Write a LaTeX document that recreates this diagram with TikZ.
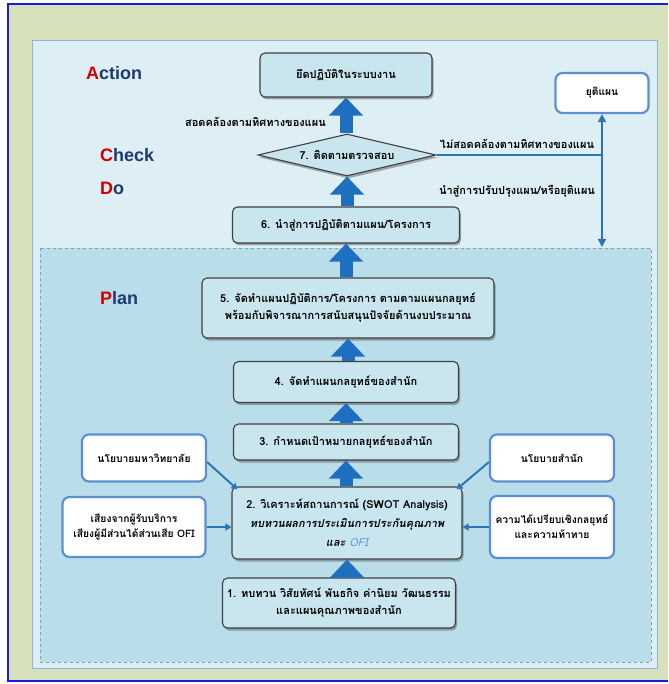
\documentclass[tikz,border=0pt]{standalone}
\usepackage{fontspec}
\setmainfont{Liberation Sans}
\newfontfamily\thai[Script=Thai]{Loma}
\usetikzlibrary{arrows.meta,shapes.geometric,shadows,calc}
\definecolor{beige}{HTML}{D7E2BD}
\definecolor{frameblue}{HTML}{1A1AE0}
\definecolor{panel}{HTML}{DDEFF5}
\definecolor{panelline}{HTML}{8DB3E2}
\definecolor{planfill}{HTML}{B9DEE9}
\definecolor{planline}{HTML}{7F9FBF}
\definecolor{boxfill}{HTML}{C9E5EE}
\definecolor{sideblue}{HTML}{5B8FD0}
\definecolor{arrowblue}{HTML}{1E6FC0}
\definecolor{thinblue}{HTML}{2E75B6}
\definecolor{navy}{HTML}{1F3A6E}
\definecolor{redA}{HTML}{D00000}
\definecolor{ofiblue}{HTML}{5B9BD5}
\begin{document}
\begin{tikzpicture}[x=1pt,y=-1pt,
  thaitext/.style={font=\thai\bfseries\fontsize{11}{14}\selectfont},
  sidetext/.style={font=\thai\bfseries\fontsize{10.3}{13}\selectfont},
  mainbox/.style={thaitext, draw=black!75, line width=1.1pt, rounded corners=5pt,
    fill=boxfill, align=center, inner sep=2pt,
    drop shadow={shadow xshift=1.5pt, shadow yshift=-2.5pt, opacity=0.45, fill=black!70}},
  sidebox/.style={sidetext, draw=sideblue, line width=2.2pt, rounded corners=7pt,
    fill=white, align=center, inner sep=2pt},
  bigarrow/.style={draw=arrowblue, line width=13pt, -{Triangle[width=33pt,length=18pt]}},
  thinarrow/.style={draw=thinblue, line width=2pt, -{Triangle[width=7pt,length=6pt]}},
  phase/.style={font=\bfseries\fontsize{18}{21}\selectfont, text=navy, anchor=west, inner sep=0pt},
  lbl/.style={thaitext, inner sep=1pt}
]
\useasboundingbox (0,0) rectangle (668,684);
% frames
\fill[beige] (8,4) rectangle (668,681);
\draw[frameblue, line width=1.5pt] (668,4) -- (8,4) -- (8,681) -- (668,681);
\filldraw[fill=panel, draw=panelline, line width=0.8pt] (32,40) rectangle (657,668);
\filldraw[fill=planfill, draw=planline, line width=0.6pt, dashed] (40,248) rectangle (651,662);

% phase labels
\node[phase] (act) at (86,73) {\textcolor{redA}{A}ction};
\node[phase] (chk) at (100,155) {\textcolor{redA}{C}heck};
\node[phase] (do) at (100,188) {\textcolor{redA}{D}o};
\node[phase] (pln) at (100,298) {\textcolor{redA}{P}lan};

% main boxes
\node[mainbox, minimum width=172pt, minimum height=44pt] (n8) at (346,75) {ยึดปฏิบัติในระบบงาน};
\node[diamond, aspect=4, thaitext, draw=black!75, line width=1.1pt, fill=boxfill, inner sep=0pt,
  minimum width=178pt, minimum height=42pt,
  drop shadow={shadow xshift=1.5pt, shadow yshift=-2.5pt, opacity=0.45, fill=black!70}] (n7) at (347,155) {7. ติดตามตรวจสอบ};
\node[mainbox, minimum width=227pt, minimum height=36pt] (n6) at (346,225) {6. นำสู่การปฏิบัติตามแผน/โครงการ};
\node[mainbox, minimum width=292pt, minimum height=60pt] (n5) at (348,308) {5. จัดทำแผนปฏิบัติการ/โครงการ ตามตามแผนกลยุทธ์\\[3pt] พร้อมกับพิจารณาการสนับสนุนปัจจัยด้านงบประมาณ};
\node[mainbox, minimum width=225pt, minimum height=41pt] (n4) at (346,382) {4. จัดทำแผนกลยุทธ์ของสำนัก};
\node[mainbox, minimum width=225pt, minimum height=36pt] (n3) at (346,442) {3. กำหนดเป้าหมายกลยุทธ์ของสำนัก};
\node[mainbox, minimum width=230pt, minimum height=72pt] (n2) at (347,523) {2. วิเคราะห์สถานการณ์ (SWOT Analysis)\\[5pt] {\itshape ทบทวนผลการประเมินการประกันคุณภาพ}\\[5pt] {\itshape และ \textcolor{ofiblue}{\mdseries OFI}}};
\node[mainbox, minimum width=233pt, minimum height=50pt] (n1) at (339,603) {1. ทบทวน วิสัยทัศน์ พันธกิจ ค่านิยม วัฒนธรรม\\[3pt] และแผนคุณภาพของสำนัก};

% side boxes
\node[sidebox, minimum width=124pt, minimum height=47pt] (uni) at (144,458) {นโยบายมหาวิทยาลัย};
\node[sidebox, minimum width=143pt, minimum height=60pt] (voice) at (134,527) {เสียงจากผู้รับบริการ\\[2pt] เสียงผู้มีส่วนได้ส่วนเสีย OFI};
\node[sidebox, minimum width=124pt, minimum height=47pt] (office) at (552,458) {นโยบายสำนัก};
\node[sidebox, minimum width=124pt, minimum height=62pt] (adv) at (552,527) {ความได้เปรียบเชิงกลยุทธ์\\[2pt] และความท้าทาย};
\node[sidebox, minimum width=93pt, minimum height=40pt] (stop) at (602,93) {ยุติแผน};

% big arrows (vertical, at the x of the upper box)
\draw[bigarrow] (n2.south |- n1.north) -- (n2.south);
\draw[bigarrow] (n3.south |- n2.north) -- (n3.south);
\draw[bigarrow] (n4.south |- n3.north) -- (n4.south);
\draw[bigarrow] (n5.south |- n4.north) -- (n5.south);
\draw[bigarrow] (n6.south |- n5.north) -- (n6.south);
\draw[bigarrow] (n7.south |- n6.north) -- (n7.south);
\draw[bigarrow] (n8.south |- n7.north) -- (n8.south);

% thin arrows into box 2
\draw[thinarrow] ([yshift=-4pt]uni.east) -- ([xshift=6pt,yshift=-3pt]n2.north west);
\draw[thinarrow] ([yshift=-4pt]office.west) -- ([xshift=-6pt,yshift=-3pt]n2.north east);
\draw[thinarrow] (voice.east) -- (n2.west |- voice.east);
\draw[thinarrow] (adv.west) -- (n2.east |- adv.west);

% check branch
\coordinate (jn) at (stop.south |- n7.east);
\coordinate (dn) at ($(stop.south |- 0,247)$);
\draw[thinblue, line width=1.4pt] (n7.east) -- (jn);
\draw[thinblue, line width=1.4pt, {Triangle[width=8pt,length=8pt]}-{Triangle[width=8pt,length=8pt]}] (stop.south) -- (dn);

% branch labels
\node[lbl, anchor=east] (l1) at (327,122) {สอดคล้องตามทิศทางของแผน};
\node[lbl] (l2) at (517,144) {ไม่สอดคล้องตามทิศทางของแผน};
\node[lbl] (l3) at (517,191) {นำสู่การปรับปรุงแผน/หรือยุติแผน};
\end{tikzpicture}
\end{document}
